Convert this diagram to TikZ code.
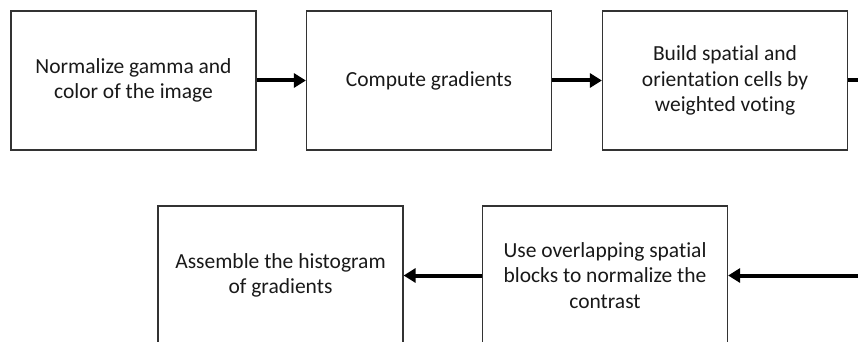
\documentclass[tikz,border=0pt]{standalone}
\usepackage{fontspec}
\setmainfont{Carlito}[Ligatures={NoCommon,NoDiscretionary}]
\usetikzlibrary{arrows.meta}
\begin{document}
\begin{tikzpicture}[x=1pt,y=-1pt,
  stepbox/.style={draw=black!80,line width=1.2pt,minimum width=245pt,minimum height=139pt,
    align=center,inner sep=0pt,font=\fontsize{21.5}{25.5}\selectfont,text=black!90},
  flow/.style={line width=4pt,-{Triangle[length=12pt,width=14pt]}}]
\useasboundingbox (0,0) rectangle (858,342);
\clip (0,0) rectangle (858,342);
\node[stepbox] (a) at (133.5,80.5) {Normalize gamma and\\color of the image};
\node[stepbox] (b) at (429,80.5) {Compute gradients};
\node[stepbox] (c) at (725,80.5) {Build spatial and\\orientation cells by\\weighted voting};
\node[stepbox] (e) at (280.5,275.5) {Assemble the histogram\\of gradients};
\node[stepbox] (d) at (605,275.5) {Use overlapping spatial\\blocks to normalize the\\contrast};
\coordinate (cout) at (870,80.5);
\coordinate (din) at (870,275.5);
\draw[flow] (a) -- (b);
\draw[flow] (b) -- (c);
\draw[line width=4pt] (c.east) -- (cout);
\draw[flow] (din) -- (d.east);
\draw[flow] (d) -- (e);
\end{tikzpicture}
\end{document}
